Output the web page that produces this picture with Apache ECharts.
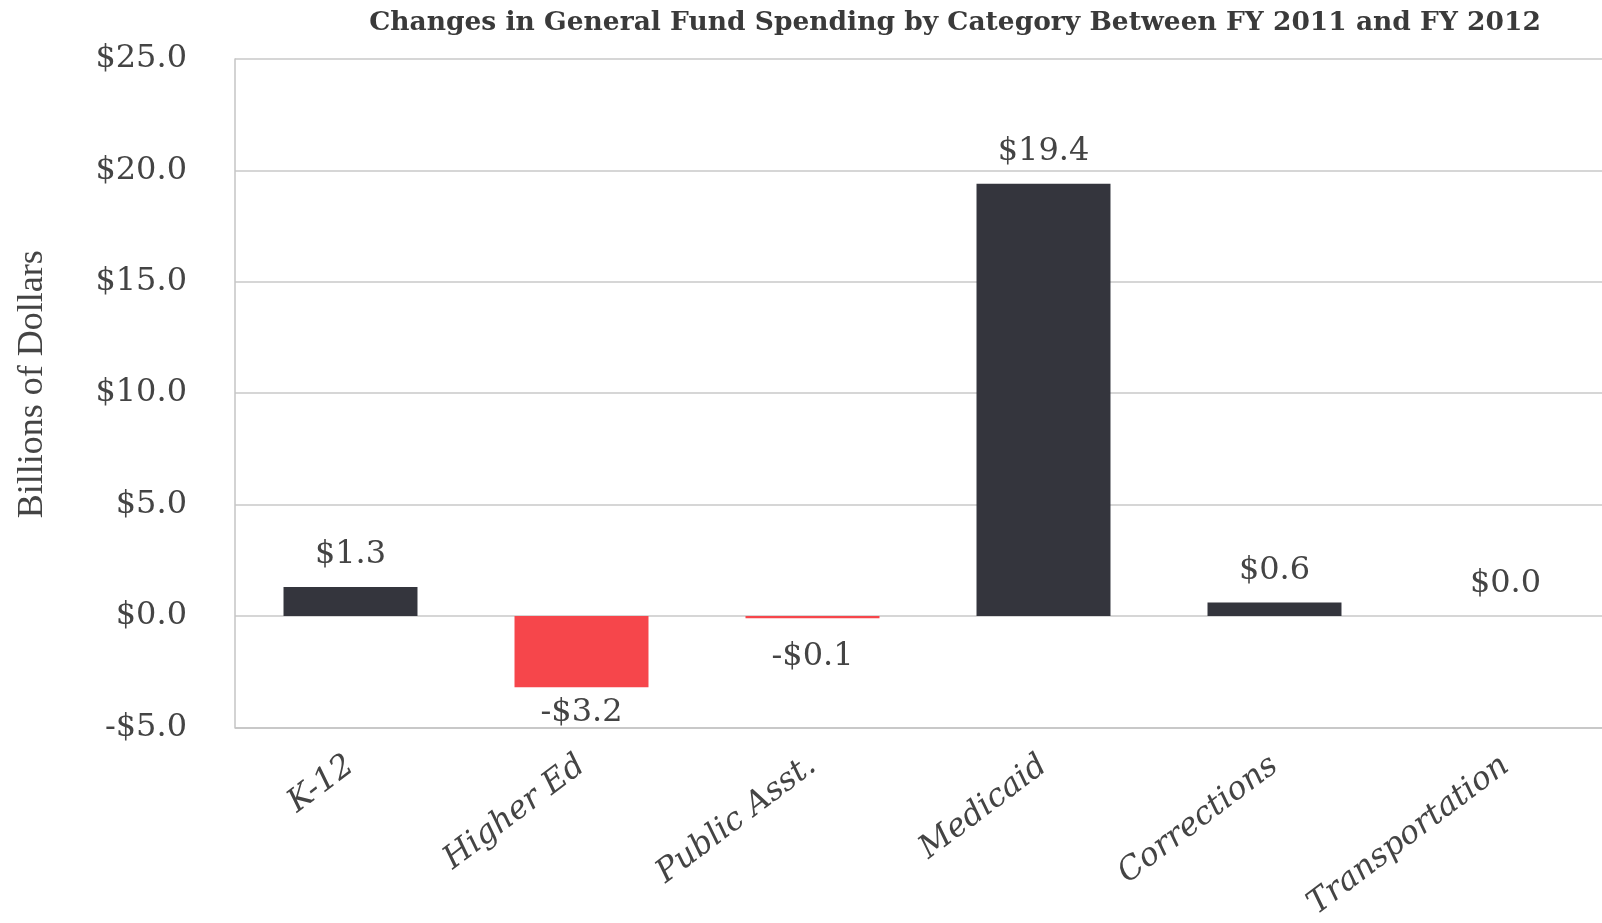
<!DOCTYPE html>
<html>
<head>
<meta charset="utf-8">
<script src="https://cdn.jsdelivr.net/npm/echarts@6/dist/echarts.min.js"></script>
<style>
  html, body { margin: 0; padding: 0; background: #ffffff; overflow: hidden; }
  /* the plot runs past the right edge of the window, so the canvas is a little wider */
  #chart { width: 1640px; height: 923px; }
</style>
</head>
<body>
<div id="chart"></div>
<script>
// Change in general fund spending, FY 2011 -> FY 2012 (billions of dollars)
const categories = ['K-12', 'Higher Ed', 'Public Asst.', 'Medicaid', 'Corrections', 'Transportation'];
const changes = [1.3, -3.2, -0.1, 19.4, 0.6, 0.0];
const axisTicks = [-5, 0, 5, 10, 15, 20, 25];

const DARK = '#34353d';
const RED = '#f6464b';

function money(v) {
  return (v < 0 ? '-' : '') + '$' + Math.abs(v).toFixed(1);
}

const chart = echarts.init(document.getElementById('chart'), null, { renderer: 'canvas' });

const barData = changes.map(function (v) {
  const neg = v < 0;
  return {
    value: v,
    itemStyle: { color: neg ? RED : DARK },
    label: {
      position: neg ? 'bottom' : 'top',
      distance: neg ? (v <= -1 ? 9 : 22) : 16
    }
  };
});

chart.setOption({
  animation: false,
  backgroundColor: '#ffffff',
  title: {
    text: 'Changes in General Fund Spending by Category Between FY 2011 and FY 2012',
    left: 950,
    top: 5,
    textAlign: 'center',
    textStyle: {
      fontFamily: 'DejaVu Serif',
      fontWeight: 'bold',
      fontSize: 26.5,
      color: '#3a3a3a'
    }
  },
  grid: {
    left: 235,
    top: 59,
    right: 19,
    bottom: 195,
    containLabel: false
  },
  xAxis: {
    type: 'category',
    data: categories,
    axisTick: { show: false },
    axisLine: { show: true, onZero: false, lineStyle: { color: '#c4c4c4', width: 1.5 } },
    axisLabel: {
      rotate: 37,
      margin: 35,
      interval: 0,
      fontFamily: 'DejaVu Serif',
      fontStyle: 'italic',
      fontSize: 32,
      color: '#444444'
    },
    splitLine: { show: false }
  },
  yAxis: {
    type: 'value',
    min: axisTicks[0],
    max: axisTicks[axisTicks.length - 1],
    interval: axisTicks[1] - axisTicks[0],
    name: 'Billions of Dollars',
    nameLocation: 'middle',
    nameRotate: 90,
    nameGap: 184,
    nameTextStyle: {
      fontFamily: 'Liberation Serif',
      fontSize: 36,
      color: '#444444',
      padding: [0, 0, 0, 18]
    },
    axisLine: { show: true, lineStyle: { color: '#c4c4c4', width: 1.5 } },
    axisTick: { show: false },
    axisLabel: {
      margin: 48,
      fontFamily: 'DejaVu Serif',
      fontSize: 32,
      color: '#444444',
      formatter: money
    },
    splitLine: { show: true, lineStyle: { color: '#c8c8c8', width: 1.5 } }
  },
  series: [{
    type: 'bar',
    data: barData,
    barWidth: '58%',
    label: {
      show: true,
      fontFamily: 'DejaVu Serif',
      fontSize: 32,
      color: '#444444',
      formatter: function (p) { return money(p.value); }
    }
  }]
});
</script>
</body>
</html>
